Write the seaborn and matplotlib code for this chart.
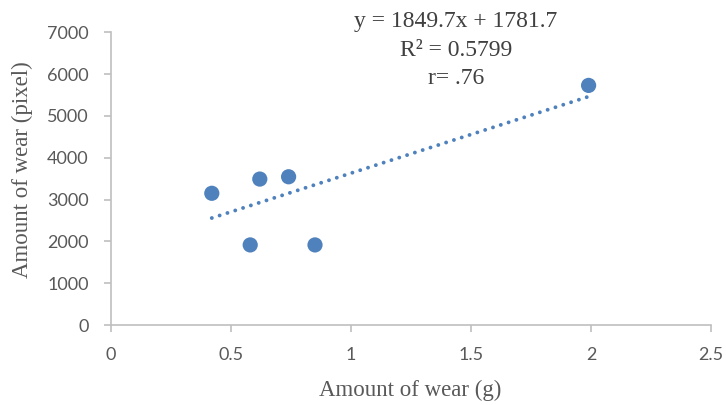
import numpy as np
import pandas as pd
import matplotlib
matplotlib.use("Agg")
import matplotlib.pyplot as plt
import seaborn as sns

# Data
wear_g = [0.42, 0.58, 0.62, 0.74, 0.85, 1.99]
wear_px = [3150, 1915, 3490, 3545, 1915, 5730]
slope = 1849.7
intercept = 1781.7
eq_lines = ["y = 1849.7x + 1781.7", "R² = 0.5799", "r= .76"]
x_ticks = [0, 0.5, 1, 1.5, 2, 2.5]
x_tick_labels = ["0", "0.5", "1", "1.5", "2", "2.5"]
y_ticks = [0, 1000, 2000, 3000, 4000, 5000, 6000, 7000]
x_label = "Amount of wear (g)"
y_label = "Amount of wear (pixel)"

sns.set_theme(style="white")
plt.rcParams['font.family'] = ['Lato', 'DejaVu Sans']

W, H = 726, 405
fig = plt.figure(figsize=(W / 100, H / 100), dpi=100)
ax_h = 325 - 32.3
ax = fig.add_axes([111 / W, (H - 325) / H, 600 / W, ax_h / H])

blue = "#4F81BD"
gray = "#BFBFBF"
tick_col = "#595959"

df = pd.DataFrame({"x": wear_g, "y": wear_px})
xs = np.array([min(wear_g), max(wear_g)])
trend = pd.DataFrame({"x": xs, "y": slope * xs + intercept})

sns.lineplot(data=trend, x="x", y="y", ax=ax, color=blue, linewidth=2.8)
ln = ax.lines[-1]
ln.set_linestyle((0, (0.01, 2.1)))
ln.set_dash_capstyle("round")

sns.scatterplot(data=df, x="x", y="y", ax=ax, color=blue, s=120, edgecolor="none", zorder=3)

ax.set_xlim(0, 2.5)
ax.set_ylim(0, 7000)
ax.set_xticks(x_ticks)
ax.set_xticklabels(x_tick_labels)
ax.set_yticks(y_ticks)
ax.set_yticklabels([str(v) for v in y_ticks])

for s in ["top", "right"]:
    ax.spines[s].set_visible(False)
for s in ["left", "bottom"]:
    ax.spines[s].set_color(gray)
    ax.spines[s].set_linewidth(1.2)

ax.tick_params(axis="both", which="major", direction="out", length=5, width=1.2,
               color=gray, labelcolor=tick_col, labelsize=13, pad=11)
ax.tick_params(axis="x", bottom=True)
ax.tick_params(axis="y", left=True)
ax.grid(False)

ax.set_xlabel(x_label, family=["Liberation Serif"], fontsize=16.5, color=tick_col,
              va="center", ha="center")
ax.set_ylabel(y_label, family=["Liberation Serif"], fontsize=16.5, color=tick_col,
              va="center", ha="center")
ax.xaxis.set_label_coords((410 - 111) / 600, (325 - 390) / ax_h)
ax.yaxis.set_label_coords((22 - 111) / 600, (325 - 170) / ax_h)

# equation label
for i, t in enumerate(eq_lines):
    fig.text(456 / W, 1 - (22 + 28 * i) / H, t, family=["Liberation Serif"], fontsize=17,
             color="#404040", ha="center", va="center")

fig.savefig("out.png", dpi=100)
